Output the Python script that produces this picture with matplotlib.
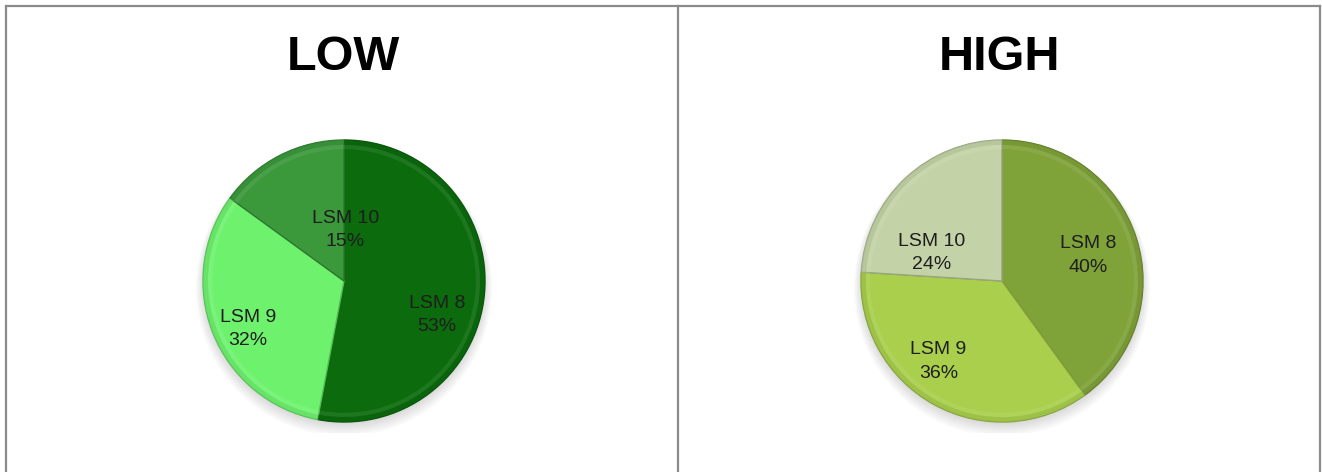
import numpy as np
import matplotlib.pyplot as plt
from matplotlib.patches import Wedge
from matplotlib.colors import to_rgb

plt.rcParams['font.family'] = ['Liberation Sans', 'DejaVu Sans']

W, H = 1322, 472

titles = ['LOW', 'HIGH']
categories = ['LSM 8', 'LSM 9', 'LSM 10']
low_values = [53, 32, 15]
high_values = [40, 36, 24]

low_colors = ['#0b6b0d', '#6ef26e', '#3b983b']
high_colors = ['#7fa239', '#a9cf4d', '#c4d3a7']

# label centres, in units of the pie radius, one per wedge
low_label_pos = [(0.66, -0.24), (-0.68, -0.34), (0.01, 0.36)]
high_label_pos = [(0.61, 0.18), (-0.45, -0.57), (-0.50, 0.20)]


def darker(c, f=0.75):
    return tuple(v * f for v in to_rgb(c))


def px_axes(cx, cy, r):
    # axes box in figure fractions from a centre and radius in pixels
    return [(cx - r) / W, (H - cy - r) / H, 2 * r / W, 2 * r / H]


def draw_pie(cx, cy, r, values, colors, label_pos):
    ax = fig.add_axes(px_axes(cx, cy, r))
    # soft shadow under the pie
    for k in range(6):
        sh = plt.Circle((0.0, -0.02 - 0.006 * k), 1.0 + 0.01 * k,
                        color='k', alpha=0.025, lw=0, zorder=0)
        ax.add_patch(sh)
    wedges, _ = ax.pie(values, colors=colors, startangle=90, counterclock=False,
                       radius=1.0, wedgeprops=dict(linewidth=1.0))
    for w, c in zip(wedges, colors):
        w.set_edgecolor(darker(c, 0.78))
        w.set_zorder(2)
        # faint darker band just inside the rim, for a bevelled look
        rim = Wedge((0, 0), 1.0, w.theta1, w.theta2, width=0.035,
                    facecolor=darker(c, 0.9), edgecolor='none', alpha=0.6, zorder=3)
        ax.add_patch(rim)
        hi = Wedge((0, 0), 0.965, w.theta1, w.theta2, width=0.03,
                   facecolor='white', edgecolor='none', alpha=0.08, zorder=3)
        ax.add_patch(hi)
    for name, v, (lx, ly) in zip(categories, values, label_pos):
        ax.text(lx, ly, '%s\n%d%%' % (name, v), ha='center', va='center',
                fontsize=14, color='#1e1e1e', linespacing=1.5, zorder=5)
    ax.set_xlim(-1.08, 1.08)
    ax.set_ylim(-1.08, 1.08)
    ax.set_aspect('equal')
    ax.axis('off')
    return ax


fig = plt.figure(figsize=(W / 100, H / 100), dpi=100)
fig.patch.set_facecolor('white')

draw_pie(344, 281, 141 * 1.08, low_values, low_colors, low_label_pos)
draw_pie(1002, 281, 141 * 1.08, high_values, high_colors, high_label_pos)

fig.text(343 / W, 1 - 57 / H, titles[0], ha='center', va='center',
         fontsize=35, fontweight='bold', color='black')
fig.text(1000 / W, 1 - 57 / H, titles[1], ha='center', va='center',
         fontsize=35, fontweight='bold', color='black')

# table borders
line_kw = dict(color='#8a8a8a', linewidth=1.6, transform=fig.transFigure)
fig.add_artist(plt.Line2D([6 / W, 1320 / W], [1 - 6 / H, 1 - 6 / H], **line_kw))
fig.add_artist(plt.Line2D([6 / W, 6 / W], [0, 1 - 6 / H], **line_kw))
fig.add_artist(plt.Line2D([678 / W, 678 / W], [0, 1 - 6 / H], **line_kw))
fig.add_artist(plt.Line2D([1320 / W, 1320 / W], [0, 1 - 6 / H], **line_kw))

fig.savefig('out.png', dpi=100)
